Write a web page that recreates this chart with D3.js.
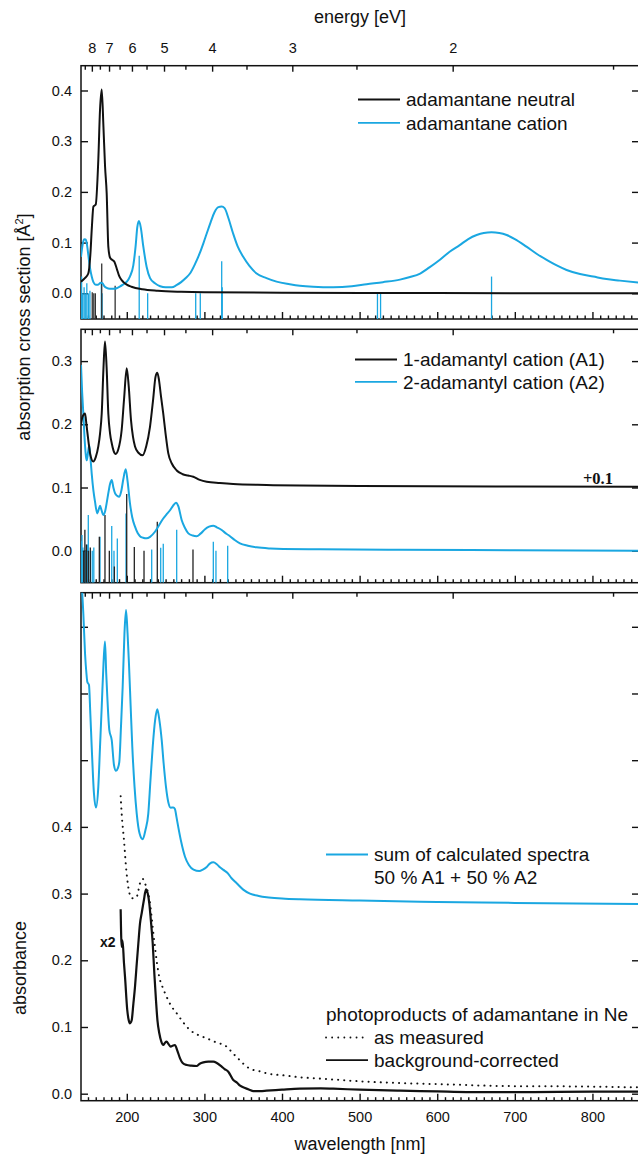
<!DOCTYPE html>
<html>
<head>
<meta charset="utf-8">
<script src="https://cdn.jsdelivr.net/npm/d3@7"></script>
<style>
  body { margin: 0; background: #fff; }
  svg { display: block; }
  text { font-family: "Liberation Sans", Arial, sans-serif; fill: #111; }
  .axis path.domain { display: none; }
  .axis line { stroke: #111; stroke-width: 1.4; }
  .axis text { font-size: 14.5px; fill: #111; }
</style>
</head>
<body>
<div id="chart"></div>
<script>
// ---- data (wavelength nm, value) ----
var neutralCurve = [[141,0.023],[146,0.03],[150.4,0.039],[153,0.075],[155,0.13],[157,0.171],[160,0.175],[163.3,0.263],[165.5,0.3615],[167.7,0.402],[169.9,0.329],[172,0.25],[174.1,0.197],[176.2,0.092],[178.5,0.07],[181,0.066],[184,0.062],[187,0.049],[190,0.035],[193.4,0.026],[200,0.017],[206,0.013],[220,0.008],[240,0.005],[270,0.003],[300,0.002],[400,0.001],[600,0.0005],[860,0.0]];
var cationCurve = [[141,0.072],[143,0.095],[144.9,0.1065],[147,0.106],[148.5,0.098],[150.5,0.075],[152.6,0.05],[154.8,0.033],[157,0.022],[160,0.017],[163,0.017],[166.5,0.021],[168.5,0.02],[171,0.014],[174,0.0105],[178,0.009],[183,0.009],[187,0.01],[191,0.013],[195,0.017],[200,0.023],[204,0.033],[208.4,0.055],[211.5,0.095],[213.5,0.13],[215.7,0.1426],[218,0.13],[221.3,0.092],[225.6,0.052],[230,0.03],[236.3,0.02],[243,0.014],[250,0.012],[258,0.012],[264,0.016],[270,0.022],[276,0.03],[281.4,0.039],[288,0.058],[294,0.079],[299,0.1],[303,0.118],[308,0.14],[313,0.16],[318,0.17],[322.3,0.171],[326,0.168],[331,0.148],[337,0.118],[343,0.092],[350,0.072],[358,0.054],[367.3,0.039],[380,0.03],[393,0.023],[410,0.018],[423,0.015],[440,0.013],[466,0.012],[490,0.014],[509,0.018],[530,0.022],[552,0.027],[565,0.032],[578,0.039],[590,0.051],[603.5,0.066],[616,0.082],[629,0.095],[640,0.107],[650.8,0.115],[660,0.119],[670,0.1203],[680,0.119],[689.5,0.115],[700,0.107],[715,0.092],[728,0.078],[741,0.066],[754,0.055],[766.7,0.046],[784,0.038],[801,0.033],[818,0.028],[835.4,0.025],[860,0.021]];
var neutralSticks = [[155.5,0.002],[157.5,0.0],[159.5,0.0],[167.7,0.059],[185,0.015]];
var cationSticks = [[141.8,0.033],[143.2,0.0],[145,0.012],[146.5,0.0],[148.5,0.02],[150.5,0.0],[152.5,0.005],[167.2,0.02],[168.2,0.0],[216,0.074],[226.9,0.0],[288.8,0.0],[294.7,0.0],[322.3,0.063],[323,0.012],[523,0.0],[527,0.0],[670,0.033]];

var a1Curve = [[141,0.2],[143,0.212],[146.2,0.217],[148,0.2],[150.4,0.175],[153,0.152],[156.8,0.141],[160,0.148],[163.3,0.165],[165.5,0.185],[167.7,0.217],[170,0.29],[171.9,0.331],[174,0.29],[176.2,0.217],[178.5,0.185],[180.6,0.17],[183,0.158],[185.7,0.153],[189,0.16],[193.4,0.191],[196.5,0.24],[199.9,0.2886],[202.5,0.26],[205.4,0.207],[208,0.18],[210.6,0.165],[215,0.155],[220.5,0.151],[225,0.165],[229.9,0.196],[234,0.24],[237,0.275],[239.3,0.2817],[241.5,0.27],[244,0.245],[247,0.217],[250,0.185],[253.5,0.154],[258,0.138],[264.3,0.127],[272,0.121],[279,0.119],[285.7,0.117],[294,0.112],[303,0.109],[320,0.107],[337,0.1055],[380,0.104],[423,0.103],[500,0.1025],[700,0.1015],[860,0.101]];
var a2Curve = [[141,0.294],[142.5,0.25],[144,0.217],[146,0.17],[147.4,0.149],[148.5,0.143],[150,0.155],[151.7,0.167],[153,0.15],[154.8,0.122],[157,0.095],[159,0.078],[162,0.059],[164,0.066],[165.5,0.071],[167.5,0.064],[169.7,0.0565],[172,0.062],[174,0.075],[176.2,0.091],[178.5,0.106],[180.6,0.112],[182.7,0.1],[184.8,0.091],[187.5,0.087],[190.4,0.0855],[193,0.095],[195.5,0.113],[198.6,0.129],[201,0.11],[204.1,0.075],[207,0.053],[210.6,0.038],[214,0.028],[217,0.023],[221,0.0205],[225.6,0.0196],[230,0.022],[236.3,0.03],[241,0.039],[247,0.051],[251,0.057],[255.7,0.064],[259.5,0.071],[263.4,0.076],[266.5,0.07],[270.7,0.0486],[275,0.036],[279.3,0.0275],[285,0.024],[290,0.023],[295,0.027],[300.8,0.034],[306,0.038],[311.5,0.0396],[316,0.037],[322.3,0.0328],[326,0.029],[330.8,0.0248],[338,0.018],[345.8,0.0117],[356,0.008],[367.3,0.0054],[385,0.0035],[401.6,0.0027],[449,0.0022],[550,0.0015],[700,0.0008],[860,0.0]];
var a1Sticks = [[144.5,0.0],[146,0.033],[148,0.01],[150.5,0.0],[153,0.005],[164.6,0.022],[171.9,0.0565],[177.5,0.0],[184,-0.025],[199.9,0.0897],[209.7,0.006],[222.2,0.0],[239.3,0.046],[285.3,0.002]];
var a2Sticks = [[141.5,0.015],[142.3,0.025],[143.5,0.005],[144.5,0.0],[147,0.0],[149,0.01],[150.4,0.0565],[153,0.0],[155.5,0.0],[157.5,0.005],[165.5,0.022],[180.6,0.039],[183.5,0.0],[187.8,0.0195],[199,0.059],[232.1,0.002],[243.7,0.0047],[247,0.011],[264.3,0.033],[311.5,0.014],[314.9,0.0],[330,0.008]];

var sumCurve = [[141,0.78],[144,0.72],[146.2,0.66],[148,0.63],[149.1,0.6177],[151.3,0.6127],[153,0.57],[154.8,0.52],[156.5,0.475],[157.7,0.45],[160.3,0.429],[163.3,0.46],[165.5,0.52],[167.7,0.58],[170,0.645],[171.9,0.678],[173.5,0.63],[174.9,0.595],[177.5,0.545],[180.6,0.53],[183.5,0.4928],[186.1,0.484],[188.5,0.488],[190.4,0.4978],[192.5,0.55],[194.7,0.61],[197,0.69],[199,0.725],[201,0.69],[202.8,0.645],[205,0.58],[207.1,0.52],[210,0.46],[212.8,0.42],[216.5,0.39],[220.5,0.3814],[224,0.395],[227.7,0.42],[230.5,0.47],[233.4,0.52],[236.5,0.56],[239.3,0.5763],[242,0.56],[245,0.53],[247.5,0.495],[250.5,0.46],[253.5,0.437],[256.6,0.4288],[260,0.429],[262,0.427],[264,0.415],[266.3,0.4],[270,0.378],[275,0.3553],[280,0.343],[286,0.336],[293.4,0.3339],[298,0.336],[303,0.34],[307,0.345],[311.5,0.3469],[316,0.344],[320,0.3394],[324.5,0.3355],[329.5,0.3313],[335,0.323],[341.6,0.3154],[350,0.306],[358.7,0.3],[370,0.2965],[380.2,0.2945],[400,0.2928],[423,0.2915],[500,0.2895],[600,0.2875],[700,0.286],[860,0.2844]];
var measuredCurve = [[192.1,0.446],[193.4,0.42],[196.4,0.38],[199,0.34],[201.9,0.31],[204,0.298],[206.7,0.293],[210,0.293],[212.8,0.295],[215,0.305],[217,0.3154],[220.5,0.322],[223.5,0.315],[227.7,0.3],[230,0.285],[232,0.265],[234,0.243],[236.3,0.22],[239,0.195],[241.8,0.1754],[246,0.16],[251.3,0.1454],[257,0.132],[264.3,0.1205],[272,0.108],[281.4,0.0955],[292,0.088],[303,0.083],[315,0.077],[328.7,0.0705],[337.2,0.06],[345.8,0.05],[354.5,0.0405],[362,0.036],[371.6,0.0335],[380.2,0.0306],[405.9,0.027],[423,0.0246],[444.5,0.023],[470,0.021],[509,0.018],[550,0.016],[594.9,0.0145],[640,0.013],[680.8,0.0115],[766.7,0.011],[860,0.0095]];
var correctedCurve = [[192.1,0.2765],[193.4,0.22],[194.5,0.23],[196.4,0.1955],[197.7,0.1754],[200.6,0.1255],[202.5,0.11],[204.1,0.1055],[206.3,0.11],[208.5,0.135],[210.6,0.1604],[212.5,0.19],[214.9,0.2255],[217,0.255],[219.2,0.2705],[222,0.29],[224.7,0.3064],[227,0.3],[229,0.2854],[231,0.26],[233.4,0.2255],[235.5,0.18],[237.6,0.1405],[239.5,0.11],[241.9,0.0906],[244.5,0.078],[247,0.073],[249,0.076],[251.3,0.078],[254,0.074],[256.6,0.0705],[259,0.072],[262,0.073],[265,0.065],[268.6,0.053],[272,0.046],[277.2,0.043],[283,0.042],[290,0.0415],[294,0.045],[298.6,0.047],[305,0.048],[311.5,0.048],[316,0.046],[322.3,0.0405],[326,0.037],[330.8,0.033],[337.2,0.0205],[341.6,0.017],[346,0.012],[352.3,0.0085],[358,0.006],[363,0.004],[372,0.004],[380,0.0045],[400,0.006],[423,0.0075],[450,0.008],[466,0.0075],[500,0.006],[552,0.0045],[600,0.0035],[637.9,0.0025],[724,0.0025],[800,0.003],[860,0.003]];

// ---- axis ticks ----
var wlMajor = [200, 300, 400, 500, 600, 700, 800];
var wlMinor = d3.range(150, 860, 10);
var evMajor = [8, 7, 6, 5, 4, 3, 2];
var evMinor = [8.5, 7.5, 6.5, 5.5, 4.5, 3.5, 2.5, 1.5];
var ticks1 = [0, 0.1, 0.2, 0.3, 0.4];
var ticks2 = [0, 0.1, 0.2, 0.3];
var ticks3 = [0, 0.1, 0.2, 0.3, 0.4, 0.5, 0.6, 0.7];
var labels3 = [0, 0.1, 0.2, 0.3, 0.4];

var blue = "#1aa7e1";
var black = "#111";
var HC = 1239.84; // eV*nm

var W = 638, H = 1155;
var svg = d3.select("#chart").append("svg")
  .attr("width", W)
  .attr("height", H);

var x = d3.scaleLinear()
  .domain([141, 860])
  .range([81, 639]);

var defs = svg.append("defs");

function makePanel(id, top, bottom, ydomain, yticks, ylabels, showEnergyLabels, showWlLabels)
{
  var y = d3.scaleLinear().domain(ydomain).range([bottom, top]);

  defs.append("clipPath").attr("id", "clip" + id)
    .append("rect")
    .attr("x", x.range()[0]).attr("y", top)
    .attr("width", x.range()[1] - x.range()[0]).attr("height", bottom - top);

  var g = svg.append("g");

  // bottom wavelength ticks (inward)
  g.append("g").attr("class", "axis")
    .attr("transform", "translate(0," + bottom + ")")
    .call(d3.axisBottom(x).tickValues(wlMinor.filter(function(d){ return wlMajor.indexOf(d) < 0; }))
      .tickSizeInner(-3.5).tickSizeOuter(0).tickFormat(""));
  g.append("g").attr("class", "axis")
    .attr("transform", "translate(0," + bottom + ")")
    .call(d3.axisBottom(x).tickValues(wlMajor)
      .tickSizeInner(-7).tickSizeOuter(0).tickPadding(11)
      .tickFormat(showWlLabels ? d3.format("d") : ""));

  // top energy ticks (inward)
  g.append("g").attr("class", "axis")
    .attr("transform", "translate(0," + top + ")")
    .call(d3.axisTop(x).tickValues(evMinor.map(function(e){ return HC / e; }).filter(function(d){ return d > 141 && d < 860; }))
      .tickSizeInner(-4).tickSizeOuter(0).tickFormat(""));
  g.append("g").attr("class", "axis")
    .attr("transform", "translate(0," + top + ")")
    .call(d3.axisTop(x).tickValues(evMajor.map(function(e){ return HC / e; }))
      .tickSizeInner(-6).tickSizeOuter(0).tickPadding(12.5)
      .tickFormat(function(d){ return showEnergyLabels ? Math.round(HC / d) : ""; }));

  // left and right value ticks (inward)
  g.append("g").attr("class", "axis")
    .attr("transform", "translate(" + x.range()[0] + ",0)")
    .call(d3.axisLeft(y).tickValues(yticks)
      .tickSizeInner(-7).tickSizeOuter(0).tickPadding(9)
      .tickFormat(function(d){ return ylabels.indexOf(d) >= 0 ? d3.format(".1f")(d) : ""; }));
  g.append("g").attr("class", "axis")
    .attr("transform", "translate(" + x.range()[1] + ",0)")
    .call(d3.axisRight(y).tickValues(yticks)
      .tickSizeInner(-7).tickSizeOuter(0).tickFormat(""));

  // frame
  g.append("rect")
    .attr("x", x.range()[0]).attr("y", top)
    .attr("width", x.range()[1] - x.range()[0]).attr("height", bottom - top)
    .attr("fill", "none").attr("stroke", black).attr("stroke-width", 1.5);

  var plot = g.append("g").attr("clip-path", "url(#clip" + id + ")");
  return {y: y, plot: plot, bottom: bottom};
}

function drawCurve(p, data, color, width, dash)
{
  var line = d3.line()
    .x(function(d) { return x(d[0]); })
    .y(function(d) { return p.y(d[1]); })
    .curve(d3.curveMonotoneX);
  var path = p.plot.append("path")
    .datum(data)
    .attr("fill", "none")
    .attr("stroke", color)
    .attr("stroke-width", width)
    .attr("stroke-linejoin", "round")
    .attr("d", line);
  if (dash) {
    path.attr("stroke-dasharray", dash).attr("stroke-linecap", "round");
  }
}

function drawSticks(p, data, color)
{
  p.plot.selectAll(null)
    .data(data)
    .enter().append("line")
    .attr("x1", function(d) { return x(d[0]); })
    .attr("x2", function(d) { return x(d[0]); })
    .attr("y1", p.bottom)
    .attr("y2", function(d) { return p.y(d[1]); })
    .attr("stroke", color)
    .attr("stroke-width", 1.3);
}

function legendItem(lx, ly, color, dash, label)
{
  var l = svg.append("line")
    .attr("x1", lx).attr("x2", lx + 42)
    .attr("y1", ly).attr("y2", ly)
    .attr("stroke", color).attr("stroke-width", 1.8);
  if (dash) l.attr("stroke-dasharray", dash).attr("stroke-linecap", "round");
  svg.append("text")
    .attr("x", lx + 48).attr("y", ly + 6.8)
    .style("font-size", "19px")
    .text(label);
}

// ---- panel 1: adamantane neutral / cation ----
var p1 = makePanel(1, 65.7, 319, [-0.0507, 0.4489], ticks1, ticks1, true, false);
drawSticks(p1, cationSticks, blue);
drawSticks(p1, neutralSticks, "#333");
drawCurve(p1, cationCurve, blue, 2);
drawCurve(p1, neutralCurve, black, 2);
legendItem(358, 99.5, black, null, "adamantane neutral");
legendItem(358, 122.8, blue, null, "adamantane cation");

// ---- panel 2: 1- and 2-adamantyl cations ----
var p2 = makePanel(2, 329.3, 582.7, [-0.0506, 0.3503], ticks2, ticks2, false, false);
drawSticks(p2, a2Sticks, blue);
drawSticks(p2, a1Sticks, "#222");
drawCurve(p2, a2Curve, blue, 2);
drawCurve(p2, a1Curve, black, 2);
legendItem(355, 359.5, black, null, "1-adamantyl cation (A1)");
legendItem(355, 381.8, blue, null, "2-adamantyl cation (A2)");
svg.append("text")
  .attr("x", 613).attr("y", 483.5)
  .attr("text-anchor", "end")
  .style("font-family", "'Liberation Serif', 'Times New Roman', serif")
  .style("font-weight", "bold")
  .style("font-size", "16.5px")
  .text("+0.1");

// ---- panel 3: sum of calculated spectra and measurement ----
var p3 = makePanel(3, 592.7, 1100.7, [-0.0105, 0.7511], ticks3, labels3, false, true);
drawCurve(p3, sumCurve, blue, 2);
drawCurve(p3, measuredCurve, black, 2, "0.1 6");
drawCurve(p3, correctedCurve, black, 2.2);
legendItem(326, 854.5, blue, null, "sum of calculated spectra");
svg.append("text")
  .attr("x", 374).attr("y", 883.5)
  .style("font-size", "19px")
  .text("50 % A1 + 50 % A2");
svg.append("text")
  .attr("x", 326).attr("y", 1020.5)
  .style("font-size", "19px")
  .text("photoproducts of adamantane in Ne");
legendItem(326, 1037.5, black, "0.1 6", "as measured");
legendItem(326, 1060.2, black, null, "background-corrected");
svg.append("text")
  .attr("x", 100).attr("y", 947)
  .style("font-weight", "bold")
  .style("font-size", "14px")
  .text("x2");

// ---- axis titles ----
svg.append("text")
  .attr("x", 360).attr("y", 23)
  .attr("text-anchor", "middle")
  .style("font-size", "18px")
  .text("energy [eV]");
svg.append("text")
  .attr("x", 360).attr("y", 1150)
  .attr("text-anchor", "middle")
  .style("font-size", "18px")
  .text("wavelength [nm]");
var yl = svg.append("text")
  .attr("transform", "translate(30,327) rotate(-90)")
  .attr("text-anchor", "middle")
  .style("font-size", "18px");
yl.append("tspan").text("absorption cross section [Å");
yl.append("tspan").attr("dy", -7).style("font-size", "11px").text("2");
yl.append("tspan").attr("dy", 7).text("]");
svg.append("text")
  .attr("transform", "translate(26,968) rotate(-90)")
  .attr("text-anchor", "middle")
  .style("font-size", "18px")
  .text("absorbance");
</script>
</body>
</html>
